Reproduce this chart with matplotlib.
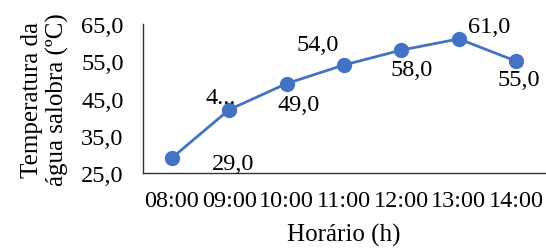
import matplotlib.pyplot as plt

plt.rcParams["font.family"] = ["Liberation Serif", "DejaVu Serif"]

horarios = ["08:00", "09:00", "10:00", "11:00", "12:00", "13:00", "14:00"]
temperatura = [29.0, 42.0, 49.0, 54.0, 58.0, 61.0, 55.0]
rotulos = ["29,0", "4...", "49,0", "54,0", "58,0", "61,0", "55,0"]
# label offsets in points (Excel put them in odd places)
offsets = [(44, -4), (-6, 9), (9, -15), (-19, 15), (7, -14), (22, 9), (2, -13)]
yticks = [25, 35, 45, 55, 65]

fs = 17.5

fig = plt.figure(figsize=(5.46, 2.51), dpi=100)
ax = fig.add_axes([143 / 546, 1 - 174 / 251, (545 - 143) / 546, (174 - 25) / 251])

x = list(range(len(horarios)))
ax.plot(x, temperatura, color="#4472C4", linewidth=2, marker="o", markersize=10)

for xi, yi, txt, off in zip(x, temperatura, rotulos, offsets):
    ax.annotate(txt, xy=(xi, yi), xytext=off, textcoords="offset points",
                ha="center", va="center", fontsize=fs, color="black")

ax.set_xlim(-0.5, len(horarios) - 0.5)
ax.set_ylim(25, 65)
ax.set_yticks(yticks)
ax.set_yticklabels([f"{v:.1f}".replace(".", ",") for v in yticks])
ax.set_xticks(x)
ax.set_xticklabels(horarios)
ax.tick_params(axis="both", length=0, labelsize=fs)
ax.tick_params(axis="y", pad=14)
ax.tick_params(axis="x", pad=12)

for s in ["top", "right"]:
    ax.spines[s].set_visible(False)
for s in ["left", "bottom"]:
    ax.spines[s].set_color("#333333")
    ax.spines[s].set_linewidth(1)

ax.set_xlabel("Horário (h)", fontsize=18, labelpad=9)
ax.set_ylabel("Temperatura da\nágua salobra (ºC)", fontsize=18, labelpad=9,
              linespacing=1.15)

fig.savefig("out.png", dpi=100)
